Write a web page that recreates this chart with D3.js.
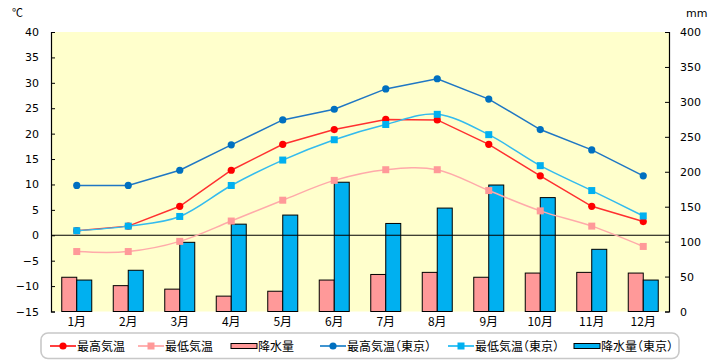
<!DOCTYPE html>
<html><head><meta charset="utf-8">
<script src="https://cdn.jsdelivr.net/npm/d3@7/dist/d3.min.js"></script>
<style>
html,body{margin:0;padding:0;background:#fff;}
svg{display:block;font-family:"Noto Sans CJK JP","DejaVu Sans",sans-serif;}
.halt{font-feature-settings:"halt" 1;}
</style></head>
<body>
<svg id="c" width="720" height="360"></svg>
<script>
const months = ["1月","2月","3月","4月","5月","6月","7月","8月","9月","10月","11月","12月"];
const maxTemp = [0.9, 1.8, 5.7, 12.8, 17.9, 20.8, 22.8, 22.7, 17.9, 11.7, 5.7, 2.7];
const minTemp = [-3.2, -3.2, -1.2, 2.8, 6.9, 10.8, 12.9, 12.9, 8.8, 4.8, 1.8, -2.2];
const precip = [49, 37, 32, 22, 29, 45, 53, 56, 49, 55, 56, 55];
const maxTempTokyo = [9.8, 9.8, 12.8, 17.8, 22.7, 24.8, 28.8, 30.8, 26.8, 20.8, 16.8, 11.7];
const minTempTokyo = [0.9, 1.8, 3.7, 9.8, 14.8, 18.8, 21.8, 23.8, 19.8, 13.7, 8.8, 3.8];
const precipTokyo = [45, 59, 99, 125, 138, 185, 126, 148, 181, 163, 89, 45];
const leftTicks = [-15,-10,-5,0,5,10,15,20,25,30,35,40];
const rightTicks = [0,50,100,150,200,250,300,350,400];
const legendLabels = ["最高気温","最低気温","降水量","最高気温（東京）","最低気温（東京）","降水量（東京）"];

const svg = d3.select("#c");
const L = 51, R = 669, T = 32, B = 311.5;
const x = d3.scaleBand().domain(months).range([L, R]).padding(0);
const yL = d3.scaleLinear().domain([-15, 40]).range([B, T]);
const yR = d3.scaleLinear().domain([0, 400]).range([B, T]);
const cx = m => x(m) + x.bandwidth() / 2;

// plot background
svg.append("rect").attr("x", L).attr("y", T).attr("width", R - L).attr("height", B - T).attr("fill", "#FFFFCC");

// bars
const barW = 15;
const series = [
  {vals: precip, fill: "#FF9999", off: -barW},
  {vals: precipTokyo, fill: "#00B0F0", off: 0}
];
series.forEach(s => {
  svg.append("g").selectAll("rect").data(months).join("rect")
    .attr("x", (m) => cx(m) + s.off)
    .attr("y", (m, i) => yR(s.vals[i]))
    .attr("width", barW)
    .attr("height", (m, i) => B - yR(s.vals[i]))
    .attr("fill", s.fill).attr("stroke", "#000").attr("stroke-width", 1);
});

// zero line
svg.append("line").attr("x1", L).attr("x2", R).attr("y1", yL(0)).attr("y2", yL(0)).attr("stroke", "#000").attr("stroke-width", 1.2);

// axes
const gl = svg.append("g").attr("transform", `translate(${L},0)`)
  .call(d3.axisLeft(yL).tickValues(leftTicks).tickSize(-4).tickPadding(10).tickFormat(d3.format("d")));
const gr = svg.append("g").attr("transform", `translate(${R},0)`)
  .call(d3.axisRight(yR).tickValues(rightTicks).tickSize(-4).tickPadding(10).tickFormat(d3.format("d")));
[gl, gr].forEach(g => {
  g.select(".domain").attr("stroke", "#000").attr("stroke-width", 1.2);
  g.selectAll(".tick line").attr("stroke", "#000");
  g.selectAll("text").attr("font-size", 11).attr("fill", "#000").attr("font-family", "DejaVu Sans, sans-serif");
});
gl.selectAll(".tick text").attr("x", -12);
gr.selectAll(".tick text").attr("x", 11);

// x labels
svg.append("g").selectAll("text").data(months).join("text")
  .attr("x", m => cx(m)).attr("y", 326).attr("text-anchor", "middle")
  .attr("font-size", 12).text(d => d);

// units
svg.append("text").attr("x", 12).attr("y", 17).attr("font-size", 11).text("℃");
svg.append("text").attr("x", 686).attr("y", 17).attr("font-size", 11).attr("font-family","DejaVu Sans, sans-serif").text("mm");

// lines (drawing order: pink, red, dark blue, light blue on top)
const lineDefs = [
  {vals: minTemp, color: "#FFAAAA", mk: "#FF9999", shape: "square", curve: d3.curveCatmullRom.alpha(0)},
  {vals: maxTemp, color: "#FF3030", mk: "#FF0000", shape: "circle", curve: d3.curveLinear},
  {vals: maxTempTokyo, color: "#1F77C4", mk: "#0070C0", shape: "circle", curve: d3.curveLinear},
  {vals: minTempTokyo, color: "#33BBEE", mk: "#00B0F0", shape: "square", curve: d3.curveCatmullRom.alpha(0)}
];
lineDefs.forEach(s => {
  const line = d3.line().x((d, i) => cx(months[i])).y(d => yL(d)).curve(s.curve);
  svg.append("path").attr("d", line(s.vals)).attr("fill", "none").attr("stroke", s.color).attr("stroke-width", 1.5);
  const g = svg.append("g");
  if (s.shape === "circle") {
    g.selectAll("circle").data(s.vals).join("circle")
      .attr("cx", (d, i) => cx(months[i])).attr("cy", d => yL(d)).attr("r", 3.6).attr("fill", s.mk);
  } else {
    g.selectAll("rect").data(s.vals).join("rect")
      .attr("x", (d, i) => cx(months[i]) - 3.5).attr("y", d => yL(d) - 3.5)
      .attr("width", 7).attr("height", 7).attr("fill", s.mk);
  }
});

// legend
svg.append("rect").attr("x", 41).attr("y", 333).attr("width", 638).attr("height", 25.5).attr("rx", 7)
  .attr("fill", "#fff").attr("stroke", "#C8C8C8").attr("stroke-width", 1.6);
const legendItems = [
  {type: "line", color: "#FF0000", shape: "circle", x0: 50},
  {type: "line", color: "#FF9999", shape: "square", x0: 138},
  {type: "bar", color: "#FF9999", x0: 231},
  {type: "line", color: "#0070C0", shape: "circle", x0: 320},
  {type: "line", color: "#00B0F0", shape: "square", x0: 448},
  {type: "bar", color: "#00B0F0", x0: 574}
];
const ly = 346;
legendItems.forEach((it, i) => {
  const g = svg.append("g");
  if (it.type === "line") {
    g.append("line").attr("x1", it.x0).attr("x2", it.x0 + 26).attr("y1", ly).attr("y2", ly).attr("stroke", it.color).attr("stroke-width", 1.5);
    if (it.shape === "circle") g.append("circle").attr("cx", it.x0 + 13).attr("cy", ly).attr("r", 3.6).attr("fill", it.color);
    else g.append("rect").attr("x", it.x0 + 9.5).attr("y", ly - 3.5).attr("width", 7).attr("height", 7).attr("fill", it.color);
  } else {
    g.append("rect").attr("x", it.x0).attr("y", ly - 2.5).attr("width", 26).attr("height", 5).attr("fill", it.color).attr("stroke", "#000").attr("stroke-width", 1);
  }
  g.append("text").attr("class", "halt").attr("x", it.x0 + 27).attr("y", ly + 4.5).attr("font-size", 12).text(legendLabels[i]);
});
</script>
</body></html>
